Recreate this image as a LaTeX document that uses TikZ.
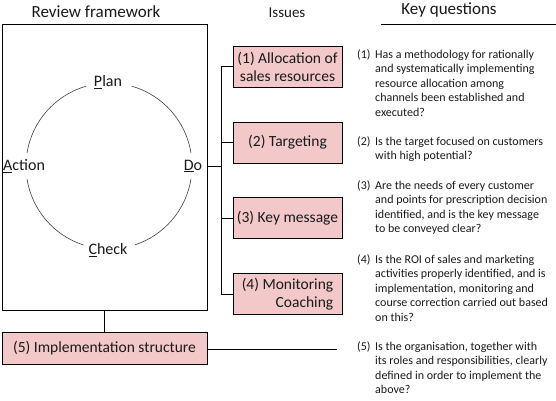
\documentclass[tikz,border=0pt]{standalone}
\usepackage{fontspec}
\setmainfont{Carlito}
\definecolor{pinkfill}{HTML}{F2C8C8}
\definecolor{txt}{HTML}{1A1A1A}
\begin{document}
\begin{tikzpicture}[x=1pt,y=-1pt,
  issuebox/.style={draw=black,line width=0.9pt,fill=pinkfill,minimum width=109pt,minimum height=41pt,inner sep=2pt,font=\fontsize{15.5}{18}\selectfont,text=txt,align=center},
  qtext/.style={anchor=north west,inner sep=0pt,font=\fontsize{12}{14.5}\selectfont,text=txt,align=left},
  qnum/.style={anchor=base west,inner sep=0pt,font=\fontsize{12}{14.5}\selectfont,text=txt},
  title/.style={anchor=base,inner sep=0pt,text=txt},
  pdca/.style={inner sep=0pt,font=\fontsize{16}{18}\selectfont,text=txt},
  conn/.style={line width=0.8pt,draw=black},
  arcline/.style={line width=0.6pt,draw=black!75}]
\useasboundingbox (0,0) rectangle (556,400);
\fill[white] (0,0) rectangle (556,400);
% titles
\node[title,font=\fontsize{17}{20}\selectfont] (t1) at (96,17) {Review framework};
\node[title,font=\fontsize{15}{18}\selectfont] (t2) at (287,17) {Issues};
\node[title,font=\fontsize{17}{20}\selectfont] (t3) at (449,14) {Key questions};
\coordinate (ul1) at (381,24);
\coordinate (ul2) at (556,24);
\draw[conn] (ul1) -- (ul2);
% framework box
\node[draw=black,line width=0.9pt,minimum width=205pt,minimum height=286pt,inner sep=0pt] (fw) at (104.5,167) {};
% PDCA circle
\begin{scope}[shift={(109,166)},y=1pt]
  \draw[arcline] (9:83pt) arc[start angle=9,end angle=74,radius=83pt];
  \draw[arcline] (106:83pt) arc[start angle=106,end angle=171,radius=83pt];
  \draw[arcline] (189:83pt) arc[start angle=189,end angle=252,radius=83pt];
  \draw[arcline] (288:83pt) arc[start angle=288,end angle=351,radius=83pt];
\end{scope}
\node[pdca] (plan) at (108,82) {\underline{P}lan};
\node[pdca] (do) at (193,166) {\underline{D}o};
\node[pdca,anchor=west] (act) at (3,166) {\underline{A}ction};
\node[pdca] (check) at (108,250) {\underline{C}heck};
% issue boxes
\node[issuebox] (i1) at (287.5,66.5) {(1) Allocation of\\sales resources};
\node[issuebox] (i2) at (287.5,142.5) {(2) Targeting};
\node[issuebox] (i3) at (287.5,218) {(3) Key message};
\node[issuebox,align=right] (i4) at (287.5,294) {(4) Monitoring\\Coaching};
\node[issuebox,minimum width=205pt,minimum height=32pt] (i5) at (104.5,348) {(5) Implementation structure};
% connectors
\coordinate (tr1) at (221,66.5);
\coordinate (tr2) at (221,142.5);
\coordinate (tr3) at (221,218);
\coordinate (tr4) at (221,294);
\coordinate (trd) at (221,166);
\draw[conn] (fw.east |- trd) -- (trd);
\draw[conn] (tr1) -- (tr4);
\draw[conn] (tr1) -- (i1.west);
\draw[conn] (tr2) -- (i2.west);
\draw[conn] (tr3) -- (i3.west);
\draw[conn] (tr4) -- (i4.west);
\draw[conn] (fw.south) -- (i5.north);
\coordinate (q5end) at (337,349);
\draw[conn] (i5.east |- q5end) -- (q5end);
% key questions (north west at baseline - strut height 10.15)
\node[qnum] (n1) at (357,58) {(1)};
\node[qtext] (q1) at (375,47.85) {\strut Has a methodology for rationally\\and systematically implementing\\resource allocation among\\channels been established and\\executed?};
\node[qnum] (n2) at (357,145) {(2)};
\node[qtext] (q2) at (375,134.85) {\strut Is the target focused on customers\\with high potential?};
\node[qnum] (n3) at (357,189) {(3)};
\node[qtext] (q3) at (375,178.85) {\strut Are the needs of every customer\\and points for prescription decision\\identified, and is the key message\\to be conveyed clear?};
\node[qnum] (n4) at (357,263) {(4)};
\node[qtext] (q4) at (375,252.85) {\strut Is the ROI of sales and marketing\\activities properly identified, and is\\implementation, monitoring and\\course correction carried out based\\on this?};
\node[qnum] (n5) at (357,350) {(5)};
\node[qtext] (q5) at (375,339.85) {\strut Is the organisation, together with\\its roles and responsibilities, clearly\\defined in order to implement the\\above?};
\end{tikzpicture}
\end{document}
